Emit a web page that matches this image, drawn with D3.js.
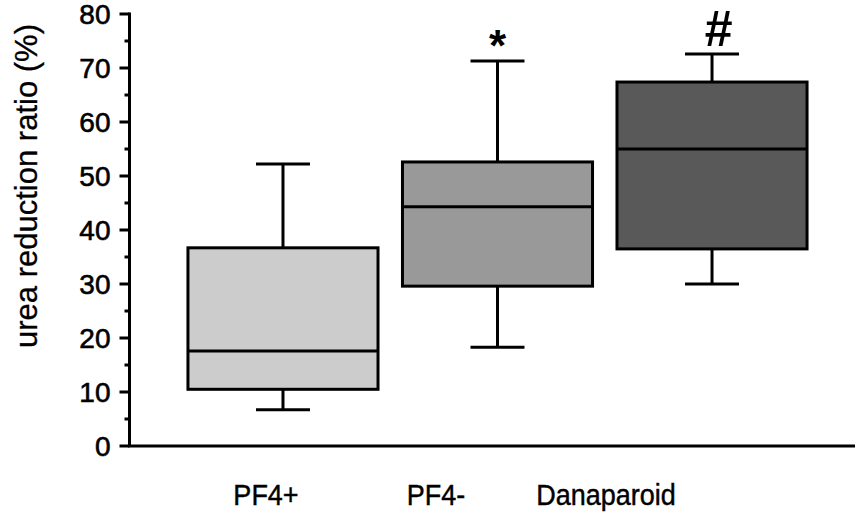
<!DOCTYPE html>
<html>
<head>
<meta charset="utf-8">
<script src="https://d3js.org/d3.v7.min.js"></script>
<style>
  body { margin: 0; background: #fff; }
  svg text { font-family: "Liberation Sans", Arial, Helvetica, sans-serif; fill: #000; }
  svg text.heavy { stroke: #000; stroke-width: 0.6px; }
</style>
</head>
<body>
<svg id="chart" width="855" height="519"></svg>
<script>
// box plot values
var categories = ["PF4+", "PF4-", "Danaparoid"];
var whiskerLow = [6.7, 18.3, 30.0];
var q1 = [10.5, 29.6, 36.5];
var median = [17.6, 44.3, 55.0];
var q3 = [36.7, 52.6, 67.4];
var whiskerHigh = [52.2, 71.3, 72.6];
var marks = ["", "*", "#"];
var fills = ["#cccccc", "#999999", "#595959"];
var yTicks = [0, 10, 20, 30, 40, 50, 60, 70, 80];
var yMinorTicks = [5, 15, 25, 35, 45, 55, 65, 75];

var svg = d3.select("#chart");

var y = d3.scaleLinear().domain([0, 80]).range([446, 14]);
var x = d3.scaleBand().domain(categories).range([163.5, 831.5])
  .paddingInner(0.114).paddingOuter(0.114);
// category labels sit left of the boxes in the original
var xLabel = d3.scalePoint().domain(categories).range([266, 606]);

var axisX = 129.5;

// y axis
var yAxis = svg.append("g").attr("transform", "translate(" + axisX + ",0)");
yAxis.append("line").attr("x1", 0).attr("x2", 0)
  .attr("y1", y(80) - 1.5).attr("y2", y(0))
  .attr("stroke", "#000").attr("stroke-width", 3);
yAxis.selectAll("line.major").data(yTicks).enter().append("line")
  .attr("class", "major")
  .attr("x1", -10).attr("x2", 0)
  .attr("y1", d => y(d)).attr("y2", d => y(d))
  .attr("stroke", "#000").attr("stroke-width", 3);
yAxis.selectAll("line.minor").data(yMinorTicks).enter().append("line")
  .attr("class", "minor")
  .attr("x1", -5).attr("x2", 0)
  .attr("y1", d => y(d)).attr("y2", d => y(d))
  .attr("stroke", "#000").attr("stroke-width", 3);
yAxis.selectAll("text").data(yTicks).enter().append("text")
  .attr("class", "heavy")
  .attr("x", -19).attr("y", d => y(d))
  .attr("dy", "0.36em")
  .attr("text-anchor", "end")
  .style("font-size", "28px")
  .text(d => d);

// x axis line
svg.append("line")
  .attr("x1", axisX - 1.5).attr("x2", 855)
  .attr("y1", y(0)).attr("y2", y(0))
  .attr("stroke", "#000").attr("stroke-width", 3);

// y title
svg.append("text")
  .attr("class", "heavy")
  .attr("transform", "translate(37,186) rotate(-90)")
  .attr("text-anchor", "middle")
  .style("font-size", "31px")
  .style("stroke-width", "0.3px")
  .text("urea reduction ratio (%)");

// boxes
var idx = d3.range(categories.length);
var bw = x.bandwidth();
var capW = bw * 0.284;
var g = svg.selectAll("g.box").data(idx).enter().append("g").attr("class", "box");

g.append("line")
  .attr("x1", i => x(categories[i]) + bw / 2).attr("x2", i => x(categories[i]) + bw / 2)
  .attr("y1", i => y(whiskerHigh[i])).attr("y2", i => y(q3[i]))
  .attr("stroke", "#000").attr("stroke-width", 3);
g.append("line")
  .attr("x1", i => x(categories[i]) + bw / 2).attr("x2", i => x(categories[i]) + bw / 2)
  .attr("y1", i => y(q1[i])).attr("y2", i => y(whiskerLow[i]))
  .attr("stroke", "#000").attr("stroke-width", 3);
g.append("line")
  .attr("x1", i => x(categories[i]) + bw / 2 - capW / 2).attr("x2", i => x(categories[i]) + bw / 2 + capW / 2)
  .attr("y1", i => y(whiskerHigh[i])).attr("y2", i => y(whiskerHigh[i]))
  .attr("stroke", "#000").attr("stroke-width", 3);
g.append("line")
  .attr("x1", i => x(categories[i]) + bw / 2 - capW / 2).attr("x2", i => x(categories[i]) + bw / 2 + capW / 2)
  .attr("y1", i => y(whiskerLow[i])).attr("y2", i => y(whiskerLow[i]))
  .attr("stroke", "#000").attr("stroke-width", 3);
g.append("rect")
  .attr("x", i => x(categories[i])).attr("width", bw)
  .attr("y", i => y(q3[i])).attr("height", i => y(q1[i]) - y(q3[i]))
  .attr("fill", i => fills[i])
  .attr("stroke", "#000").attr("stroke-width", 3);
g.append("line")
  .attr("x1", i => x(categories[i])).attr("x2", i => x(categories[i]) + bw)
  .attr("y1", i => y(median[i])).attr("y2", i => y(median[i]))
  .attr("stroke", "#000").attr("stroke-width", 3);

// significance marks
g.append("text")
  .attr("x", i => x(categories[i]) + bw / 2 + (marks[i] === "#" ? 6 : 0))
  .attr("y", i => y(whiskerHigh[i]) - (marks[i] === "#" ? 8 : 0))
  .attr("text-anchor", "middle")
  .style("font-size", i => marks[i] === "#" ? "50px" : "44px")
  .style("font-weight", "bold")
  .style("font-style", i => marks[i] === "#" ? "italic" : "normal")
  .text(i => marks[i]);

// category labels (slightly taller than wide, as in the original)
svg.selectAll("text.cat").data(categories).enter().append("text")
  .attr("class", "cat heavy")
  .attr("transform", d => "translate(" + xLabel(d) + ",505) scale(1,1.12)")
  .attr("text-anchor", "middle")
  .style("font-size", "27px")
  .style("stroke-width", "0.4px")
  .text(d => d);
</script>
</body>
</html>
